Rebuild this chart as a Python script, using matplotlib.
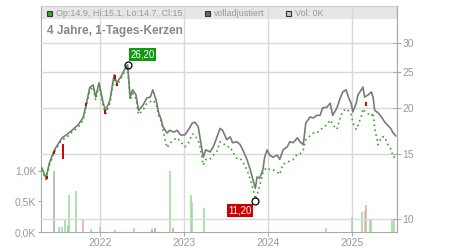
import numpy as np
import matplotlib.pyplot as plt
from matplotlib.patches import Rectangle
from matplotlib.ticker import FixedLocator, NullLocator

plt.rcParams['font.family'] = ['Liberation Sans', 'DejaVu Sans']

# time in decimal years
t = [2021.31, 2021.36, 2021.40, 2021.46, 2021.55, 2021.60, 2021.67, 2021.74, 2021.80, 2021.83,
     2021.88, 2021.92, 2021.95, 2021.99, 2022.04, 2022.07, 2022.12, 2022.17, 2022.20, 2022.25,
     2022.31, 2022.33, 2022.36, 2022.39, 2022.43, 2022.46, 2022.51, 2022.56, 2022.60, 2022.63,
     2022.67, 2022.70, 2022.73, 2022.75, 2022.80, 2022.83, 2022.88, 2022.92, 2022.96, 2023.01,
     2023.05, 2023.10, 2023.13, 2023.17, 2023.19, 2023.23, 2023.26, 2023.31, 2023.35, 2023.39,
     2023.43, 2023.46, 2023.51, 2023.55, 2023.58, 2023.63, 2023.67, 2023.70, 2023.75, 2023.79,
     2023.82, 2023.85, 2023.87, 2023.90, 2023.94, 2023.96, 2023.99, 2024.02, 2024.06, 2024.11,
     2024.14, 2024.18, 2024.23, 2024.26, 2024.30, 2024.35, 2024.38, 2024.42, 2024.45, 2024.50,
     2024.54, 2024.58, 2024.62, 2024.65, 2024.70, 2024.74, 2024.77, 2024.82, 2024.86, 2024.89,
     2024.93, 2024.96, 2024.99, 2025.01, 2025.05, 2025.07, 2025.11, 2025.13, 2025.15, 2025.19,
     2025.23, 2025.25, 2025.27, 2025.31, 2025.35, 2025.39, 2025.42, 2025.46, 2025.49, 2025.52]

# "volladjustiert" line
adjusted = [13.75, 12.9, 14.2, 15.4, 16.6, 16.9, 17.4, 18.0, 18.8, 20.1,
            22.7, 23.1, 21.4, 23.4, 20.6, 19.7, 21.0, 24.6, 23.4, 24.3,
            25.8, 26.2, 21.4, 22.4, 21.7, 19.7, 20.3, 21.3, 21.4, 22.4,
            21.0, 19.4, 18.6, 17.8, 17.1, 17.4, 17.2, 17.4, 16.9, 16.9,
            17.4, 18.2, 18.3, 17.8, 16.7, 14.7, 15.4, 15.2, 15.7, 16.6,
            17.6, 17.4, 16.4, 16.7, 16.1, 16.2, 15.9, 15.4, 14.5, 13.6,
            12.8, 12.1, 13.0, 12.9, 13.6, 14.7, 15.4, 14.9, 14.7, 14.9,
            14.5, 15.4, 15.7, 16.2, 16.1, 16.6, 16.2, 15.9, 18.2, 18.9,
            18.8, 19.1, 19.1, 20.0, 20.1, 20.6, 19.1, 20.0, 21.3, 22.1,
            22.4, 21.3, 20.6, 19.5, 20.6, 21.7, 22.4, 22.8, 21.4, 21.7,
            22.1, 21.4, 19.7, 19.4, 18.9, 18.3, 18.0, 17.6, 17.1, 16.8]

# candle closes
close = [13.6, 12.8, 14.0, 15.2, 16.4, 16.6, 17.2, 17.7, 18.5, 19.8,
         22.3, 22.8, 21.0, 23.0, 20.2, 19.3, 20.6, 24.2, 23.0, 24.0,
         25.5, 26.0, 21.0, 21.9, 21.2, 19.2, 19.7, 20.6, 20.8, 21.0,
         20.5, 19.0, 18.4, 17.5, 15.6, 16.0, 16.4, 16.6, 16.2, 15.7,
         16.0, 17.0, 16.9, 16.3, 15.8, 14.0, 14.5, 14.5, 14.9, 15.2,
         16.2, 16.1, 15.7, 15.7, 15.2, 14.6, 14.6, 14.3, 13.6, 12.8,
         12.1, 11.3, 11.6, 12.3, 13.3, 13.6, 13.8, 13.6, 13.6, 13.4,
         13.2, 14.1, 14.2, 14.4, 14.5, 15.0, 15.0, 15.4, 16.4, 16.8,
         17.1, 17.1, 17.4, 17.65, 18.0, 18.55, 18.0, 17.5, 18.8, 19.6,
         19.9, 19.6, 19.2, 18.2, 17.5, 17.9, 19.0, 19.9, 19.6, 19.3,
         19.0, 19.4, 17.6, 15.9, 16.7, 16.7, 16.0, 15.5, 14.7, 14.8]

# red (falling) candles
red_t = [2021.37, 2021.46, 2021.56, 2021.83, 2022.06, 2022.18, 2022.21, 2025.17]
red_lo = [12.8, 15.0, 14.5, 20.2, 19.3, 24.0, 22.9, 20.2]
red_hi = [13.1, 15.3, 16.0, 20.6, 19.8, 24.5, 23.4, 20.7]

# volume in thousands
vol_t = [2021.46, 2021.52, 2021.55, 2021.58, 2021.62, 2021.63, 2021.72, 2021.80, 2021.90, 2022.00,
         2022.18, 2022.41, 2022.62, 2022.66, 2022.84, 2022.87, 2023.08, 2023.10, 2023.24, 2024.69,
         2025.00, 2025.12, 2025.15, 2025.17, 2025.21, 2025.23, 2025.48, 2025.50]
vol_k = [1.0, 0.08, 0.08, 0.19, 0.1, 0.61, 0.67, 0.2, 0.05, 0.08,
         0.03, 0.07, 0.05, 0.07, 1.0, 0.07, 0.61, 0.49, 0.39, 0.07,
         0.24, 0.32, 0.34, 0.44, 0.22, 0.2, 0.19, 0.19]
vol_kind = ['n', 'u', 'u', 'u', 'n', 'u', 'u', 'd', 'u', 'u',
            'd', 'u', 'n', 'n', 'u', 'n', 'u', 'u', 'u', 'u',
            'u', 'u', 'u', 'd', 'u', 'u', 'u', 'u']

year_ticks = [2022, 2023, 2024, 2025]
year_labels = ['2022', '2023', '2024', '2025']
price_ticks = [10, 15, 20, 25, 30]
price_labels = ['10', '15', '20', '25', '30']
vol_ticks = [0, 0.5, 1.0]
vol_labels = ['0,0K', '0,5K', '1,0K']

hi_t, hi_v, hi_txt = 2022.33, 26.2, '26,20'
lo_t, lo_v, lo_txt = 2023.85, 11.2, '11,20'

txt_c = '#999999'
grid_c = '#d9d9d9'
axis_c = '#aaaaaa'
kind_colors = {'u': '#9ad89a', 'd': '#f0a0a8', 'n': '#aaaaaa'}

W, H = 450, 250
fig = plt.figure(figsize=(4.5, 2.5), dpi=100)
rect = [41 / W, 18 / H, 356 / W, 226 / H]

# volume axis (left)
axv = fig.add_axes(rect)
axv.set_xlim(2021.30, 2025.535)
axv.set_ylim(0, 3.7)
axv.set_axisbelow(True)
axv.vlines(vol_t, 0, vol_k, colors=[kind_colors[k] for k in vol_kind], lw=1.1)
axv.set_yticks(vol_ticks, vol_labels)
axv.set_xticks(year_ticks, year_labels)
axv.tick_params(axis='y', length=2, color=axis_c, labelcolor=txt_c, labelsize=7.5, pad=1.5)
axv.tick_params(axis='x', length=3, color=axis_c, labelcolor=txt_c, labelsize=7.5, pad=1)
axv.grid(axis='x', color=grid_c, lw=1)
for s in ['left', 'bottom', 'right']:
    axv.spines[s].set_color(axis_c)
axv.spines['top'].set_color('#cccccc')
axv.add_patch(Rectangle((0, 1 - 13 / 226), 1, 13 / 226, transform=axv.transAxes,
                        facecolor='#e6e6e6', edgecolor='none', zorder=0.2))

# price axis (right, log)
ax = axv.twinx()
ax.set_yscale('log')
ax.set_ylim(9.22, 37.8)
ax.set_axisbelow(True)
ax.yaxis.set_major_locator(FixedLocator(price_ticks))
ax.yaxis.set_minor_locator(NullLocator())
ax.set_yticks(price_ticks, price_labels)
ax.tick_params(axis='y', direction='inout', length=6, color=axis_c, labelcolor=txt_c,
               labelsize=7.5, pad=1)
ax.grid(axis='y', color=grid_c, lw=1)
for s in ['left', 'bottom', 'top']:
    ax.spines[s].set_visible(False)
ax.spines['right'].set_color(axis_c)

ax.plot(t, adjusted, color='#7a7a7a', lw=1.2, zorder=3)
ax.plot(t, close, color='#33aa22', lw=1.2, ls=(0, (1, 2)), zorder=4)
ax.vlines(red_t, red_lo, red_hi, colors='#cc0000', lw=1.4, zorder=5)

ax.plot([hi_t], [hi_v], 'o', ms=5, mfc='none', mec='black', mew=0.9, zorder=6)
ax.annotate(hi_txt, (hi_t, hi_v), xytext=(3, 5), textcoords='offset pixels',
            ha='left', va='bottom', color='white', fontsize=7, zorder=7,
            bbox=dict(boxstyle='square,pad=0.15', fc='#109910', ec='none'))
ax.plot([lo_t], [lo_v], 'o', ms=5, mfc='none', mec='black', mew=0.9, zorder=6)
ax.annotate(lo_txt, (lo_t, lo_v), xytext=(-4, -5), textcoords='offset pixels',
            ha='right', va='top', color='white', fontsize=7, zorder=7,
            bbox=dict(boxstyle='square,pad=0.15', fc='#cc0000', ec='none'))

# header legend
def legend_item(x, fc, label):
    fig.patches.append(Rectangle((x / W, 1 - 16 / H), 5 / W, 5 / H, transform=fig.transFigure,
                                 facecolor=fc, edgecolor='#333333', lw=0.8))
    fig.text((x + 9) / W, 1 - 13.5 / H, label, color=txt_c, fontsize=6.5, va='center', ha='left')

legend_item(47, '#33aa22', 'Op:14.9, Hi:15.1, Lo:14.7, Cl:15')
legend_item(205, '#666666', 'volladjustiert')
legend_item(286, '#aaddaa', 'Vol: 0K')

fig.text(47 / W, 1 - 31 / H, '4 Jahre, 1-Tages-Kerzen', color='#888888', fontsize=8.6,
         fontweight='bold', va='center', ha='left')

fig.savefig('out.png', dpi=100)
